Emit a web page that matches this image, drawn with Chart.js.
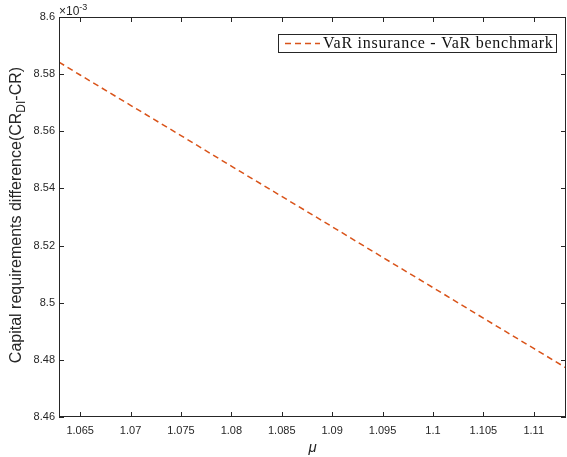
<!DOCTYPE html>
<html>
<head>
<meta charset="utf-8">
<script src="https://cdn.jsdelivr.net/npm/chart.js@4.4.1/dist/chart.umd.min.js"></script>
<style>
  html, body { margin: 0; padding: 0; background: #fff; }
  canvas { display: block; }
</style>
</head>
<body>
<canvas id="diffChart" width="567" height="457"></canvas>
<script>
// mu on the x axis, difference in units of 1e-3 on the y axis
const muValues = [1.0629, 1.065, 1.07, 1.075, 1.08, 1.085, 1.09, 1.095, 1.1, 1.105, 1.11, 1.1132];
const crDiff = [8.5842, 8.5797, 8.5691, 8.5585, 8.5478, 8.5372, 8.5266, 8.5159, 8.5053, 8.4946, 8.4840, 8.4772];
const xTicks = [1.065, 1.07, 1.075, 1.08, 1.085, 1.09, 1.095, 1.1, 1.105, 1.11];
const yTicks = [8.46, 8.48, 8.5, 8.52, 8.54, 8.56, 8.58, 8.6];
const seriesLabel = 'VaR insurance - VaR benchmark';

const axisColor = '#262626';
const lineColor = '#D95319';
const sans = '"Liberation Sans", Arial, sans-serif';

function fmt(v) {
  return String(Number(v.toFixed(4)));
}

// box around the axes with inward ticks on all four sides (matlab look)
const frame = {
  id: 'frame',
  afterDraw(chart) {
    const { ctx, chartArea: a, scales } = chart;
    ctx.save();
    ctx.strokeStyle = axisColor;
    ctx.lineWidth = 1;
    ctx.strokeRect(Math.round(a.left) + 0.5, Math.round(a.top) + 0.5,
      Math.round(a.right - a.left) - 1, Math.round(a.bottom - a.top) - 1);
    const len = 5;
    ctx.beginPath();
    xTicks.forEach(t => {
      const x = Math.round(scales.x.getPixelForValue(t)) + 0.5;
      ctx.moveTo(x, a.bottom); ctx.lineTo(x, a.bottom - len);
      ctx.moveTo(x, a.top); ctx.lineTo(x, a.top + len);
    });
    yTicks.forEach(t => {
      const y = Math.round(scales.y.getPixelForValue(t)) + 0.5;
      ctx.moveTo(a.left, y); ctx.lineTo(a.left + len, y);
      ctx.moveTo(a.right, y); ctx.lineTo(a.right - len, y);
    });
    ctx.stroke();

    // exponent label
    ctx.fillStyle = axisColor;
    ctx.textBaseline = 'alphabetic';
    ctx.textAlign = 'left';
    ctx.font = '12px ' + sans;
    ctx.fillText('\u00d710', a.left, a.top - 2);
    const w = ctx.measureText('\u00d710').width;
    ctx.font = '9px ' + sans;
    ctx.fillText('-3', a.left + w, a.top - 7);

    // y title with subscript
    const parts = [
      ['Capital requirements difference(CR', 16, 0],
      ['DI', 12, 4],
      ['-CR)', 16, 0]
    ];
    let total = 0;
    parts.forEach(p => {
      ctx.font = p[1] + 'px ' + sans;
      p.push(ctx.measureText(p[0]).width);
      total += p[3];
    });
    ctx.translate(21, 215);
    ctx.rotate(-Math.PI / 2);
    let x = -total / 2;
    parts.forEach(p => {
      ctx.font = p[1] + 'px ' + sans;
      ctx.fillText(p[0], x, p[2]);
      x += p[3];
    });
    ctx.restore();

    // legend box
    const ds = chart.data.datasets[0];
    ctx.save();
    ctx.fillStyle = '#fff';
    ctx.fillRect(278, 34, 278, 18);
    ctx.strokeStyle = axisColor;
    ctx.strokeRect(278.5, 34.5, 278, 18);
    ctx.strokeStyle = ds.borderColor;
    ctx.lineWidth = ds.borderWidth;
    ctx.setLineDash(ds.borderDash);
    ctx.beginPath();
    ctx.moveTo(285, 43.5); ctx.lineTo(320, 43.5);
    ctx.stroke();
    ctx.fillStyle = '#111';
    ctx.font = '16px "Liberation Serif", "DejaVu Serif", serif';
    ctx.letterSpacing = '0.75px';
    ctx.textBaseline = 'alphabetic';
    ctx.fillText(ds.label, 323, 48);
    ctx.restore();
  }
};

new Chart(document.getElementById('diffChart').getContext('2d'), {
  type: 'line',
  data: {
    datasets: [{
      label: seriesLabel,
      data: muValues.map((m, i) => ({ x: m, y: crDiff[i] })),
      borderColor: lineColor,
      borderWidth: 1.5,
      borderDash: [6, 4],
      pointRadius: 0,
      fill: false,
      tension: 0
    }]
  },
  options: {
    responsive: false,
    animation: false,
    layout: { padding: { top: 17, right: 1, left: 0, bottom: 0 } },
    plugins: {
      legend: { display: false },
      tooltip: { enabled: false }
    },
    scales: {
      x: {
        type: 'linear',
        min: 1.0629,
        max: 1.1132,
        afterBuildTicks: s => { s.ticks = xTicks.map(v => ({ value: v })); },
        afterFit: s => { s.height = 40; },
        grid: { display: false, drawTicks: false },
        border: { display: false },
        ticks: {
          color: axisColor,
          padding: 7,
          maxRotation: 0,
          autoSkip: false,
          font: { family: sans, size: 11 },
          callback: v => fmt(v)
        },
        title: {
          display: true,
          text: '\u03bc',
          color: axisColor,
          padding: { top: 2, bottom: 0 },
          font: { family: sans, size: 15, style: 'italic' }
        }
      },
      y: {
        min: 8.46,
        max: 8.6,
        afterBuildTicks: s => { s.ticks = yTicks.map(v => ({ value: v })); },
        afterFit: s => { s.width = 59; },
        grid: { display: false, drawTicks: false },
        border: { display: false },
        ticks: {
          color: axisColor,
          padding: 4,
          autoSkip: false,
          font: { family: sans, size: 11 },
          callback: v => fmt(v)
        }
      }
    }
  },
  plugins: [frame]
});
</script>
</body>
</html>
